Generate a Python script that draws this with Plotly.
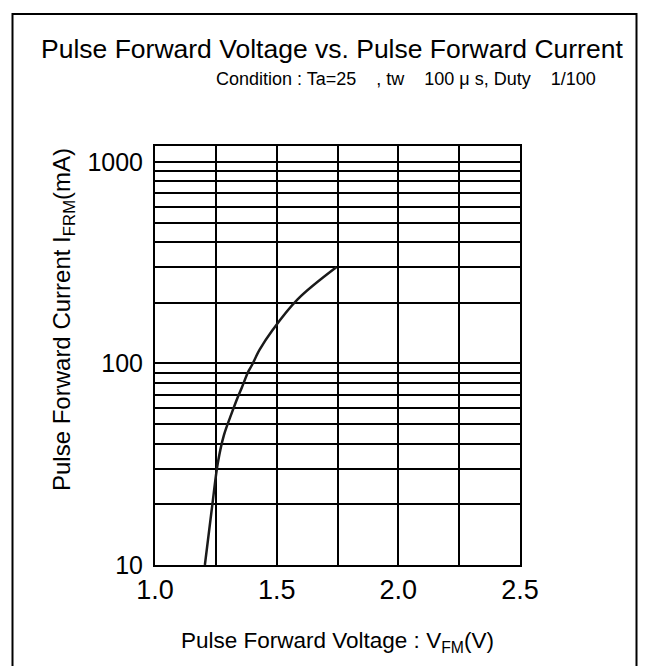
import plotly.graph_objects as go

# Data
voltage = [1.205, 1.238, 1.258, 1.283, 1.316, 1.338, 1.357, 1.383, 1.398, 1.430, 1.484, 1.586, 1.745]
current = [10, 21, 32, 44, 57, 67, 76, 91, 98, 117, 147, 208, 300]

x_major = [1.0, 1.5, 2.0, 2.5]
x_labels = ["1.0", "1.5", "2.0", "2.5"]
x_minor = [1.25, 1.75, 2.25]

y_major = [10, 100, 1000]
y_labels = ["10", "100", "1000"]
y_minor = [20, 30, 40, 50, 60, 70, 80, 90,
           200, 300, 400, 500, 600, 700, 800, 900]

FONT = "Liberation Sans, Arial, Helvetica, sans-serif"

# page body has an 8px margin; work in page pixels and convert
OFF = 8
W, H = 649 - OFF, 666 - OFF
PL, PR, PT, PB = 155, 520, 146, 565          # plot area in page pixels
L, T = PL - OFF, PT - OFF
R, B = W - (PR - OFF), H - (PB - OFF)
PW, PH = PR - PL, PB - PT


def px(x):
    return (x - PL) / PW


def py(y):
    return (PB - y) / PH


grid = dict(showgrid=True, gridcolor="black", gridwidth=2, ticks="")

fig = go.Figure()
fig.add_trace(go.Scatter(
    x=voltage, y=current, mode="lines",
    line=dict(color="#1a1a1a", width=2.5, shape="spline", smoothing=1.0),
    showlegend=False, hoverinfo="x+y",
))

fig.update_layout(
    width=W, height=H,
    margin=dict(l=L, r=R, t=T, b=B, pad=0),
    paper_bgcolor="white", plot_bgcolor="white",
    font=dict(family=FONT, color="black"),
    showlegend=False,
    xaxis=dict(
        range=[1.0, 2.5], tickmode="array", tickvals=x_major, ticktext=x_labels,
        showgrid=True, gridcolor="black", gridwidth=2,
        minor=dict(tickmode="array", tickvals=x_minor, **grid),
        showline=True, linecolor="black", linewidth=2, mirror=True,
        ticks="", 
        tickfont=dict(family=FONT, size=27, color="black"),
        zeroline=False, fixedrange=True,
    ),
    yaxis=dict(
        type="log", range=[1.0, 3.079],
        tickmode="array", tickvals=y_major, ticktext=y_labels,
        showgrid=True, gridcolor="black", gridwidth=2,
        minor=dict(tickmode="array", tickvals=y_minor, **grid),
        showline=True, linecolor="black", linewidth=2, mirror=True,
        ticks="outside", ticklen=5, tickcolor="rgba(0,0,0,0)",
        tickfont=dict(family=FONT, size=25, color="black"),
        zeroline=False, fixedrange=True,
    ),
    annotations=[
        dict(text="Pulse Forward Voltage vs. Pulse Forward Current",
             x=px(332), y=py(49), xref="paper", yref="paper",
             xanchor="center", yanchor="middle", showarrow=False,
             font=dict(family=FONT, size=26.5, color="black")),
        dict(text="Condition : Ta=25\u00a0\u00a0\u00a0\u00a0, tw\u00a0\u00a0\u00a0\u00a0100 \u03bc s, Duty\u00a0\u00a0\u00a0\u00a01/100",
             x=px(406), y=py(79), xref="paper", yref="paper",
             xanchor="center", yanchor="middle", showarrow=False,
             font=dict(family=FONT, size=18, color="black")),
        dict(text="Pulse Forward Voltage : V<sub>FM</sub>(V)",
             x=px(337), y=py(642), xref="paper", yref="paper",
             xanchor="center", yanchor="middle", showarrow=False,
             font=dict(family=FONT, size=22.5, color="black")),
        dict(text="Pulse Forward Current I<sub>FRM</sub>(mA)",
             x=px(63), y=py(320), xref="paper", yref="paper",
             xanchor="center", yanchor="middle", showarrow=False, textangle=-90,
             font=dict(family=FONT, size=24, color="black")),
    ],
    shapes=[
        dict(type="rect", xref="paper", yref="paper",
             x0=px(12.5), x1=px(636.5), y0=py(680), y1=py(14),
             line=dict(color="black", width=2), fillcolor="rgba(0,0,0,0)",
             layer="below"),
    ],
)

fig.write_html("out.html")
